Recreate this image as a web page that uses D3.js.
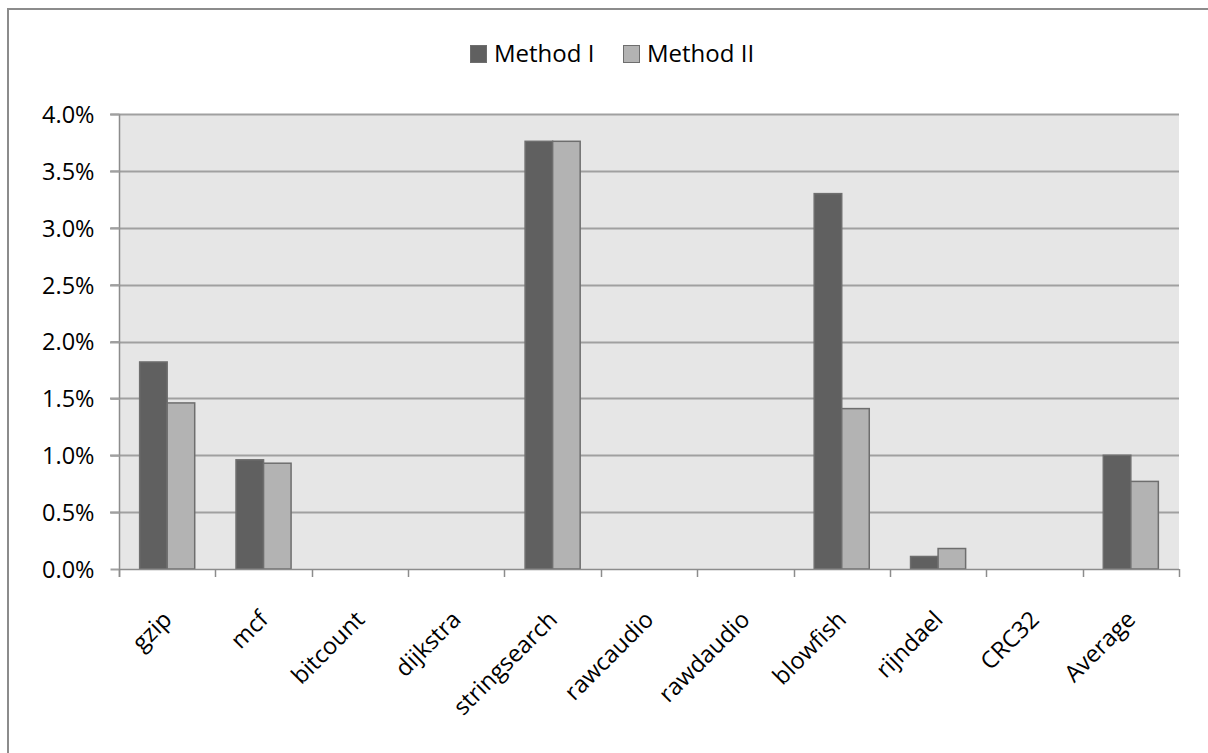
<!DOCTYPE html>
<html>
<head>
<meta charset="utf-8">
<script src="https://cdn.jsdelivr.net/npm/d3@7"></script>
<style>
  html, body { margin: 0; padding: 0; background: #fff; }
  svg { display: block; }
  text { font-family: "Open Sans", "Noto Sans", sans-serif; fill: #000; }
</style>
</head>
<body>
<svg id="chart" width="1208" height="753"></svg>
<script>
const categories = ["gzip", "mcf", "bitcount", "dijkstra", "stringsearch", "rawcaudio", "rawdaudio", "blowfish", "rijndael", "CRC32", "Average"];
const seriesNames = ["Method I", "Method II"];
const method1 = [0.0182, 0.0096, 0, 0, 0.0376, 0, 0, 0.0330, 0.0011, 0, 0.0100];
const method2 = [0.0146, 0.0093, 0, 0, 0.0376, 0, 0, 0.0141, 0.0018, 0, 0.0077];
const yTicks = [0, 0.005, 0.01, 0.015, 0.02, 0.025, 0.03, 0.035, 0.04];

const colors = ["#606060", "#b3b3b3"];
const svg = d3.select("#chart");

// outer border
svg.append("rect").attr("x", 8).attr("y", 9).attr("width", 1240).attr("height", 800)
  .attr("fill", "none").attr("stroke", "#8c8c8c").attr("stroke-width", 2);

const pL = 119, pR = 1179, pT = 114, pB = 569;
const x = d3.scaleBand().domain(categories).range([pL, pR]).paddingInner(0).paddingOuter(0);
const y = d3.scaleLinear().domain([0, 0.04]).range([pB, pT]);

// plot background
svg.append("rect").attr("x", pL).attr("y", pT).attr("width", pR - pL).attr("height", pB - pT)
  .attr("fill", "#e6e6e6");

// gridlines
svg.append("g").selectAll("line").data(yTicks.slice(1)).join("line")
  .attr("x1", pL - 9).attr("x2", pR)
  .attr("y1", d => Math.round(y(d)) + 0.5).attr("y2", d => Math.round(y(d)) + 0.5)
  .attr("stroke", "#a0a0a0").attr("stroke-width", 2);

// bars
const bw = x.bandwidth() / 3.5;
const sub = d3.scaleBand().domain([0, 1]).range([0.75 * bw, 2.75 * bw]);
const series = [method1, method2];
series.forEach((vals, si) => {
  svg.append("g").selectAll("rect").data(vals).join("rect")
    .attr("x", (d, i) => x(categories[i]) + sub(si))
    .attr("width", sub.bandwidth())
    .attr("y", d => y(d))
    .attr("height", d => y(0) - y(d))
    .attr("fill", colors[si])
    .attr("stroke", "#6e6e6e").attr("stroke-width", d => d > 0 ? 1.5 : 0);
});

// y axis
const yAxis = d3.axisLeft(y).tickValues(yTicks).tickFormat(d3.format(".1%")).tickSize(9).tickPadding(16);
const gy = svg.append("g").attr("transform", `translate(${pL + 0.5},0)`).call(yAxis);
gy.select(".domain").attr("stroke", "#8c8c8c").attr("stroke-width", 1.5).attr("d", `M0,${pT}V${pB + 8}`);
gy.selectAll(".tick line").attr("stroke", "#a0a0a0").attr("stroke-width", 2);
gy.selectAll(".tick text").style("font-size", "23.5px").attr("fill", "#000").attr("dy", "0.36em");

// x axis
const xTickPos = categories.map(c => x(c)).concat([pR]);
svg.append("line").attr("x1", pL).attr("x2", pR).attr("y1", pB + 0.5).attr("y2", pB + 0.5)
  .attr("stroke", "#8c8c8c").attr("stroke-width", 1.5);
svg.append("g").selectAll("line").data(xTickPos).join("line")
  .attr("x1", d => Math.round(d) + 0.5).attr("x2", d => Math.round(d) + 0.5)
  .attr("y1", pB).attr("y2", pB + 8)
  .attr("stroke", "#8c8c8c").attr("stroke-width", 1.5);

svg.append("g").selectAll("text").data(categories).join("text")
  .attr("transform", d => `translate(${x(d) + x.bandwidth() / 2 + 6},${pB + 52}) rotate(-45)`)
  .attr("text-anchor", "end")
  .style("font-size", "23.5px")
  .text(d => d);

// legend
const legend = svg.append("g");
const legItems = [{ name: seriesNames[0], x: 470, c: colors[0] }, { name: seriesNames[1], x: 623, c: colors[1] }];
legItems.forEach(it => {
  legend.append("rect").attr("x", it.x + 0.5).attr("y", 45.5).attr("width", 16).attr("height", 17)
    .attr("fill", it.c).attr("stroke", "#6e6e6e").attr("stroke-width", 1);
  legend.append("text").attr("x", it.x + 24).attr("y", 62).style("font-size", "24px").text(it.name);
});
</script>
</body>
</html>
